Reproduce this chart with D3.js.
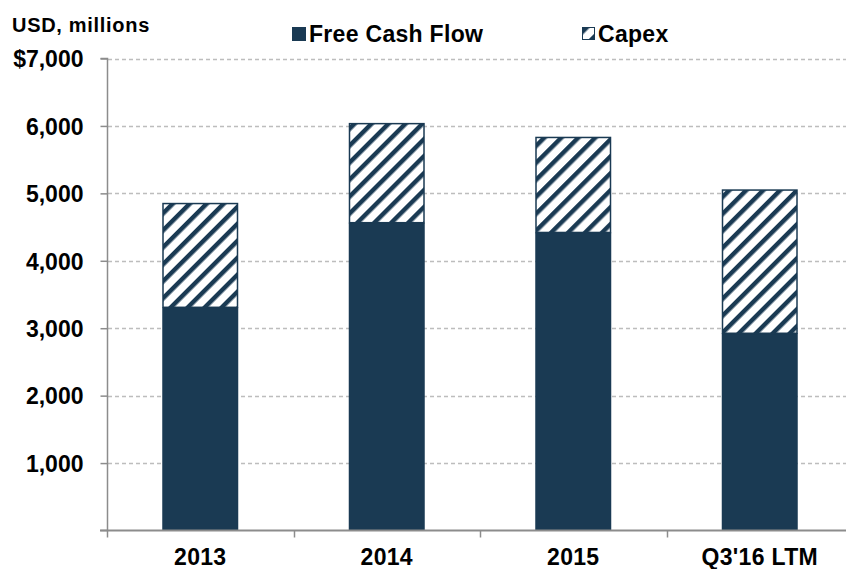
<!DOCTYPE html>
<html><head><meta charset="utf-8">
<script src="https://cdn.jsdelivr.net/npm/d3@7"></script>
<style>
html,body{margin:0;padding:0;background:#fff;}
text{font-family:"Liberation Sans",Arial,sans-serif;font-weight:bold;fill:#000;}
</style></head>
<body><svg id="c" width="846" height="569"></svg>
<script>
const categories = ["2013", "2014", "2015", "Q3'16 LTM"];
const freeCashFlow = [3310, 4565, 4420, 2925];
const capex = [1550, 1480, 1420, 2135];
const yTicks = [1000, 2000, 3000, 4000, 5000, 6000, 7000];
const seriesNames = ["Free Cash Flow", "Capex"];

const navy = "#1a3a53";
const svg = d3.select("#c");
const defs = svg.append("defs");
const pat = defs.append("pattern").attr("id","hatch").attr("patternUnits","userSpaceOnUse")
  .attr("width",12).attr("height",12).attr("patternTransform","rotate(45)");
pat.append("rect").attr("width",12).attr("height",12).attr("fill","#fff");
pat.append("rect").attr("x",0).attr("width",4.5).attr("height",12).attr("fill",navy);

const x = d3.scaleBand().domain(categories).range([107, 853]).paddingInner(0).paddingOuter(0);
const y = d3.scaleLinear().domain([0, 7000]).range([530.5, 58.5]);
const barW = 76;

// gridlines
svg.append("g").selectAll("line").data(yTicks).join("line")
  .attr("x1",108).attr("x2",846).attr("y1",d=>Math.round(y(d))+0.5).attr("y2",d=>Math.round(y(d))+0.5)
  .attr("stroke","#bdbdbd").attr("stroke-width",1.3).attr("stroke-dasharray","4,3");

// bars
const g = svg.append("g");
categories.forEach((c,i)=>{
  const cx = x(c) + x.bandwidth()/2;
  g.append("rect").attr("x",cx-barW/2).attr("width",barW)
    .attr("y",y(freeCashFlow[i])).attr("height",y(0)-y(freeCashFlow[i])).attr("fill",navy);
  const top = freeCashFlow[i]+capex[i];
  g.append("rect").attr("x",cx-barW/2+0.75).attr("width",barW-1.5)
    .attr("y",y(top)+0.75).attr("height",y(freeCashFlow[i])-y(top)-0.75)
    .attr("fill","url(#hatch)").attr("stroke",navy).attr("stroke-width",1.5);
});

// y axis
const yAxis = d3.axisLeft(y).tickValues(yTicks).tickSize(7).tickPadding(17)
  .tickFormat(d=> d===7000 ? "$7,000" : d3.format(",")(d));
const ya = svg.append("g").attr("transform","translate(107.5,0)").call(yAxis);
ya.select(".domain").attr("stroke","#8c8c8c").attr("stroke-width",1.5).attr("d","M-7,"+y(0)+"H0V"+y(7000)+"H-7");
ya.selectAll(".tick line").attr("stroke","#8c8c8c").attr("stroke-width",1.5);
ya.selectAll(".tick text").style("font-size","23px")
  .style("font-family","'Liberation Sans',Arial,sans-serif").style("font-weight","bold").attr("fill","#000").attr("dy","0.36em");

// x axis
const xa = svg.append("g").attr("transform","translate(0,530.5)");
xa.append("line").attr("x1",100).attr("x2",846).attr("y1",0).attr("y2",0).attr("stroke","#8c8c8c").attr("stroke-width",1.8);
const bounds = categories.map(c=>x(c));
xa.selectAll("line.tk").data(bounds).join("line").attr("class","tk")
  .attr("x1",d=>Math.round(d)+0.5).attr("x2",d=>Math.round(d)+0.5).attr("y1",0).attr("y2",7)
  .attr("stroke","#8c8c8c").attr("stroke-width",1.5);
xa.selectAll("text").data(categories).join("text")
  .attr("x",d=>x(d)+x.bandwidth()/2).attr("y",34).attr("text-anchor","middle")
  .style("font-size","23px").style("letter-spacing","0.3px").text(d=>d);

// unit label
svg.append("text").attr("x",12).attr("y",32).style("font-size","20px").style("letter-spacing","0.7px").text("USD, millions");

// legend
const lg = svg.append("g");
lg.append("rect").attr("x",292).attr("y",27).attr("width",14).attr("height",14).attr("fill",navy);
lg.append("text").attr("x",309).attr("y",41.5).style("font-size","23px").style("letter-spacing","0.3px").text(seriesNames[0]);
lg.append("rect").attr("x",582.5).attr("y",27.5).attr("width",12).attr("height",12).attr("fill","url(#hatch)").attr("stroke",navy).attr("stroke-width",1);
lg.append("text").attr("x",598).attr("y",41.5).style("font-size","23px").style("letter-spacing","0.3px").text(seriesNames[1]);
</script></body></html>
